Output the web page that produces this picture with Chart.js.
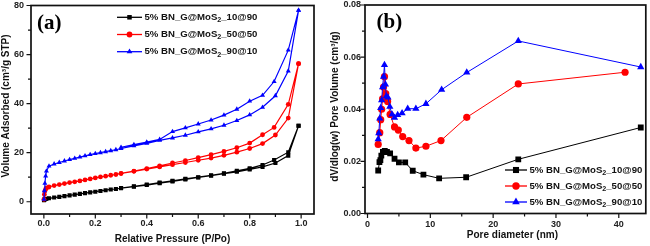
<!DOCTYPE html>
<html><head><meta charset="utf-8">
<script src="https://cdn.jsdelivr.net/npm/chart.js@4.4.1/dist/chart.umd.min.js"></script>
<style>
html,body{margin:0;padding:0;background:#fff;}
#wrap{position:relative;width:650px;height:246px;overflow:hidden;background:#fff;}
canvas{position:absolute;top:0;}
#ca{left:0}
#cb{left:330px}
</style></head><body>
<div id="wrap"><canvas id="ca" width="330" height="246"></canvas><canvas id="cb" width="320" height="246"></canvas></div>
<script>
// ---------- series names ----------
const seriesLabels = ['5% BN_G@MoS2_10@90', '5% BN_G@MoS2_50@50', '5% BN_G@MoS2_90@10'];

// ---------- panel (a): N2 isotherms ----------
const pAds = [0.0005, 0.002, 0.004, 0.007, 0.01, 0.02, 0.04, 0.06, 0.08, 0.10, 0.12, 0.14, 0.16, 0.18, 0.20, 0.22, 0.24, 0.26, 0.28, 0.30, 0.35, 0.40, 0.45, 0.50, 0.55, 0.60, 0.65, 0.70, 0.75, 0.80, 0.85, 0.90, 0.95, 0.99];
const pDes = [0.99, 0.95, 0.895, 0.85, 0.80, 0.75, 0.70, 0.65, 0.60, 0.55, 0.50, 0.45, 0.40, 0.35, 0.30];

const adsBlack = [0.6, 0.9, 1.0, 1.1, 1.2, 1.4, 1.7, 2.0, 2.3, 2.6, 2.9, 3.2, 3.5, 3.8, 4.1, 4.4, 4.7, 5.0, 5.2, 5.5, 6.1, 6.8, 7.6, 8.3, 9.1, 9.9, 10.6, 11.4, 12.2, 13.2, 14.2, 15.8, 18.8, 31.0];
const desBlack = [31.0, 20.2, 17.0, 15.0, 13.6, 12.6, 11.6, 10.8, 10.0, 9.3, 8.5, 7.8, 7.0, 6.3, 5.6];

const adsRed = [1.0, 3.0, 4.4, 5.1, 5.6, 6.0, 6.6, 7.0, 7.4, 7.8, 8.1, 8.5, 8.9, 9.3, 9.7, 10.1, 10.4, 10.8, 11.1, 11.5, 12.4, 13.3, 14.2, 15.1, 16.0, 16.9, 17.8, 18.9, 20.2, 21.7, 23.7, 27.2, 34.1, 56.3];
const desRed = [56.3, 39.7, 30.3, 27.3, 23.9, 22.0, 20.5, 19.2, 18.0, 16.8, 15.8, 14.6, 13.5, 12.5, 11.6];

const adsBlue = [1.0, 4.5, 7.5, 10.5, 12.5, 14.5, 15.4, 16.0, 16.6, 17.2, 17.7, 18.2, 18.7, 19.2, 19.6, 20.0, 20.4, 20.8, 21.2, 21.7, 22.8, 23.8, 25.0, 26.0, 27.1, 28.5, 29.7, 31.2, 33.1, 35.4, 38.5, 43.2, 53.3, 78.0];
const desBlue = [78.0, 61.8, 49.0, 43.4, 41.0, 37.7, 35.3, 33.3, 31.7, 30.1, 28.6, 25.4, 24.3, 23.3, 22.2];

const xMajorA = [0, 0.2, 0.4, 0.6, 0.8, 1.0];
const xMinorA = [0.1, 0.3, 0.5, 0.7, 0.9];
const xLabelsA = ['0.0', '0.2', '0.4', '0.6', '0.8', '1.0'];
const yMajorA = [0, 20, 40, 60, 80];
const yMinorA = [10, 30, 50, 70];
const yLabelsA = ['0', '20', '40', '60', '80'];

// ---------- panel (b): pore size distribution ----------
const dBlack = [1.7, 1.9, 2.05, 2.2, 2.45, 2.75, 3.1, 3.6, 4.3, 5.0, 6.0, 7.2, 8.9, 11.4, 15.7, 24.0, 43.5];
const vBlack = [0.0165, 0.0197, 0.0205, 0.0222, 0.0236, 0.0240, 0.0236, 0.0231, 0.0210, 0.0196, 0.0196, 0.0164, 0.0149, 0.0135, 0.0139, 0.0208, 0.0330];

const dRed = [1.7, 1.95, 2.1, 2.25, 2.4, 2.55, 2.7, 2.9, 3.2, 3.6, 4.3, 4.9, 5.6, 6.6, 7.7, 9.3, 11.7, 15.8, 24.0, 41.0];
const vRed = [0.0265, 0.031, 0.036, 0.040, 0.044, 0.0485, 0.0525, 0.046, 0.043, 0.038, 0.0332, 0.032, 0.0295, 0.028, 0.0251, 0.0258, 0.028, 0.0369, 0.0497, 0.0542];

const dBlue = [1.7, 1.8, 1.95, 2.1, 2.25, 2.4, 2.55, 2.7, 2.85, 3.0, 3.25, 3.55, 3.9, 4.3, 4.8, 5.5, 6.4, 7.7, 9.3, 11.8, 15.8, 24.0, 43.5];
const vBlue = [0.0285, 0.0308, 0.0365, 0.0405, 0.0435, 0.0485, 0.0525, 0.057, 0.0495, 0.045, 0.0445, 0.041, 0.038, 0.0368, 0.0378, 0.0385, 0.0402, 0.0402, 0.0421, 0.0475, 0.0541, 0.0662, 0.0562];

const xMajorB = [0, 10, 20, 30, 40];
const xMinorB = [5, 15, 25, 35];
const xLabelsB = ['0', '10', '20', '30', '40'];
const yMajorB = [0, 0.02, 0.04, 0.06, 0.08];
const yMinorB = [0.01, 0.03, 0.05, 0.07];
const yLabelsB = ['0.00', '0.02', '0.04', '0.06', '0.08'];

// ---------- helpers ----------
const SANS = '"Liberation Sans", Arial, Helvetica, sans-serif';
const SERIF = '"Liberation Serif", "Times New Roman", serif';
const COLORS = ['#000000', '#ff0000', '#0000ff'];
const STYLES = ['rect', 'circle', 'triangle'];

function pts(xs, ys) { return xs.map((x, i) => ({ x: x, y: ys[i] })); }

const framePlugin = {
  id: 'frame',
  afterDatasetsDraw(chart, args, o) {
    const ctx = chart.ctx, a = chart.chartArea;
    const xs = chart.scales.x, ys = chart.scales.y;
    ctx.save();
    ctx.strokeStyle = '#111';
    ctx.lineWidth = 1.2;
    ctx.beginPath();
    const xt = (vals, len) => vals.forEach(v => { const p = xs.getPixelForValue(v); ctx.moveTo(p, a.bottom); ctx.lineTo(p, a.bottom + len); });
    const yt = (vals, len) => vals.forEach(v => { const p = ys.getPixelForValue(v); ctx.moveTo(a.left, p); ctx.lineTo(a.left - len, p); });
    xt(o.xMajor, 4.5); xt(o.xMinor, 3);
    yt(o.yMajor, 4.5); yt(o.yMinor, 3);
    ctx.stroke();
    ctx.lineWidth = 1.7;
    ctx.strokeRect(a.left, a.top, a.right - a.left, a.bottom - a.top);
    ctx.restore();
  },
  afterDraw(chart, args, o) {
    const ctx = chart.ctx, a = chart.chartArea;
    ctx.save();
    ctx.fillStyle = '#111';
    // axis titles
    ctx.font = 'bold ' + o.xTitleSize + 'px ' + SANS;
    ctx.textAlign = 'center';
    ctx.textBaseline = 'middle';
    ctx.fillText(o.xTitle, (a.left + a.right) / 2 + o.xTitleShift, o.xTitleY);
    ctx.save();
    ctx.translate(o.yTitleX, o.yTitleY);
    ctx.rotate(-Math.PI / 2);
    ctx.font = 'bold ' + o.yTitleSize + 'px ' + SANS;
    ctx.fillText(o.yTitle, 0, 0);
    ctx.restore();
    // panel label
    ctx.font = 'bold 21px ' + SERIF;
    ctx.textAlign = 'left';
    ctx.fillStyle = '#000';
    ctx.fillText(o.panel, o.panelX, o.panelY);
    // legend
    chart.data.datasets.forEach((ds, i) => {
      const y = o.legY + i * o.legDy;
      ctx.strokeStyle = ds.borderColor;
      ctx.lineWidth = 1.3;
      ctx.beginPath();
      ctx.moveTo(o.legX0, y); ctx.lineTo(o.legX1, y);
      ctx.stroke();
      ctx.fillStyle = ds.borderColor;
      Chart.helpers.drawPoint(ctx, { pointStyle: ds.pointStyle, radius: o.legR[i], rotation: 0, borderWidth: 0 }, (o.legX0 + o.legX1) / 2, y);
      // text with subscript 2
      ctx.fillStyle = '#111';
      ctx.textBaseline = 'middle';
      ctx.textAlign = 'left';
      const parts = ds.label.split('MoS2');
      let x = o.legTextX;
      ctx.font = 'bold ' + o.legFont + 'px ' + SANS;
      const t1 = parts[0] + 'MoS';
      ctx.fillText(t1, x, y);
      x += ctx.measureText(t1).width;
      ctx.font = 'bold ' + (o.legFont * 0.75) + 'px ' + SANS;
      ctx.fillText('2', x, y + 3);
      x += ctx.measureText('2').width;
      ctx.font = 'bold ' + o.legFont + 'px ' + SANS;
      ctx.fillText(parts[1], x, y);
    });
    ctx.restore();
  }
};

function scaleX(min, max, major, labels, h, pad) {
  return {
    type: 'linear', min: min, max: max,
    afterBuildTicks: s => { s.ticks = major.map(v => ({ value: v })); },
    afterFit: s => { s.height = h; s.paddingLeft = 0; s.paddingRight = 0; s.paddingTop = 0; s.paddingBottom = 0; },
    grid: { display: false, drawTicks: false },
    border: { display: false },
    ticks: { autoSkip: false, maxRotation: 0, padding: pad, color: '#222', font: { family: SANS, size: 9, weight: 'bold' },
      callback: (v, i) => labels[i] }
  };
}
function scaleY(min, max, major, labels, w, pad) {
  return {
    type: 'linear', min: min, max: max,
    afterBuildTicks: s => { s.ticks = major.map(v => ({ value: v })); },
    afterFit: s => { s.width = w; s.paddingLeft = 0; s.paddingRight = 0; s.paddingTop = 0; s.paddingBottom = 0; },
    grid: { display: false, drawTicks: false },
    border: { display: false },
    ticks: { autoSkip: false, padding: pad, color: '#222', font: { family: SANS, size: 9, weight: 'bold' },
      callback: (v, i) => labels[i] }
  };
}

function mkDs(i, data, r, bw) {
  return {
    label: seriesLabels[i], data: data,
    borderColor: COLORS[i], backgroundColor: COLORS[i],
    pointBackgroundColor: COLORS[i], pointBorderColor: COLORS[i], pointBorderWidth: 0,
    pointStyle: STYLES[i], pointRadius: r[i], pointHoverRadius: r[i],
    borderWidth: bw, tension: 0, fill: false, order: 3 - i
  };
}

const rA = [2.9, 2.4, 2.9];
const rB = [4.1, 3.6, 4.2];

new Chart(document.getElementById('ca'), {
  type: 'line',
  data: { datasets: [
    mkDs(0, pts(pAds, adsBlack).concat(pts(pDes, desBlack)), rA, 1.2),
    mkDs(1, pts(pAds, adsRed).concat(pts(pDes, desRed)), rA, 1.2),
    mkDs(2, pts(pAds, adsBlue).concat(pts(pDes, desBlue)), rA, 1.2)
  ] },
  options: {
    responsive: false, animation: false, devicePixelRatio: 1,
    layout: { padding: { top: 5.5, right: 16, left: 0, bottom: 0 } },
    scales: {
      x: scaleX(-0.05, 1.05, xMajorA, xLabelsA, 32, 4.5),
      y: scaleY(-5, 80, yMajorA, yLabelsA, 31, 7)
    },
    plugins: {
      legend: { display: false }, tooltip: { enabled: false },
      frame: { xMajor: xMajorA, xMinor: xMinorA, yMajor: yMajorA, yMinor: yMinorA,
        xTitle: 'Relative Pressure (P/Po)', xTitleSize: 10, xTitleShift: 0, xTitleY: 239.5,
        yTitle: 'Volume Adsorbed (cm\u00B3/g STP)', yTitleSize: 10, yTitleX: 6, yTitleY: 106,
        panel: '(a)', panelX: 37, panelY: 24,
        legY: 17.3, legDy: 17.2, legX0: 117, legX1: 142, legTextX: 144.5, legR: [3.2, 2.9, 3.3], legFont: 9.6 }
    }
  },
  plugins: [framePlugin]
});

new Chart(document.getElementById('cb'), {
  type: 'line',
  data: { datasets: [
    mkDs(0, pts(dBlack, vBlack), rB, 1),
    mkDs(1, pts(dRed, vRed), rB, 1),
    mkDs(2, pts(dBlue, vBlue), rB, 1)
  ] },
  options: {
    responsive: false, animation: false, devicePixelRatio: 1,
    layout: { padding: { top: 5, right: 3, left: 0, bottom: 0 } },
    scales: {
      x: scaleX(-0.4, 44.3, xMajorB, xLabelsB, 32.5, 6),
      y: scaleY(0, 0.08, yMajorB, yLabelsB, 35, 4)
    },
    plugins: {
      legend: { display: false }, tooltip: { enabled: false },
      frame: { xMajor: xMajorB, xMinor: xMinorB, yMajor: yMajorB, yMinor: yMinorB,
        xTitle: 'Pore diameter (nm)', xTitleSize: 10, xTitleShift: 7, xTitleY: 235,
        yTitle: 'dV/dlog(w) Pore Volume (cm\u00B3/g)', yTitleSize: 10, yTitleX: 5.5, yTitleY: 106.5,
        panel: '(b)', panelX: 46.5, panelY: 23,
        legY: 170, legDy: 16, legX0: 175, legX1: 197, legTextX: 199.5, legR: [4.3, 3.7, 4.4], legFont: 9.6 }
    }
  },
  plugins: [framePlugin]
});
</script>
</body></html>
